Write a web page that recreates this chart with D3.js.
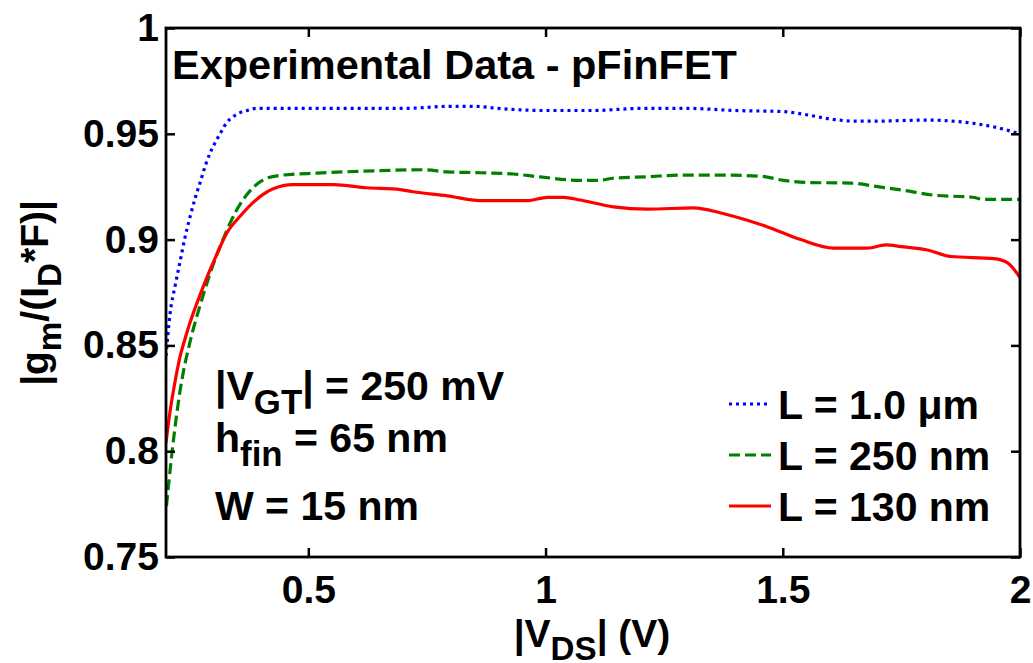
<!DOCTYPE html>
<html>
<head>
<meta charset="utf-8">
<script src="https://cdn.jsdelivr.net/npm/d3@7"></script>
<style>
  body { margin: 0; background: #fff; }
  svg text { font-family: "Liberation Sans", Arial, sans-serif; font-weight: bold; }
</style>
</head>
<body>
<svg id="chart" width="1033" height="663"></svg>
<script>
//////////////////////////////////////////////////////////////////////
// data: |VDS| (V) vs gm/(ID*F)
//////////////////////////////////////////////////////////////////////
var xTicks = [0.5, 1, 1.5, 2];
var yTicks = [0.75, 0.8, 0.85, 0.9, 0.95, 1];

// L = 1.0 um (blue, dotted)
var vdsLong = [0.200, 0.208, 0.220, 0.230, 0.240, 0.251, 0.262, 0.272, 0.283, 0.293, 0.304, 0.314,
  0.327, 0.341, 0.356, 0.371, 0.390, 0.410, 0.450, 0.500, 0.600, 0.700, 0.800, 0.850, 0.900, 1.000,
  1.100, 1.200, 1.300, 1.400, 1.500, 1.550, 1.600, 1.650, 1.700, 1.800, 1.900, 1.950, 2.000];
var gmLong = [0.845, 0.864, 0.879, 0.890, 0.901, 0.911, 0.920, 0.927, 0.935, 0.941, 0.946, 0.950,
  0.955, 0.958, 0.960, 0.961, 0.962, 0.962, 0.962, 0.962, 0.962, 0.962, 0.963, 0.963, 0.962, 0.961,
  0.961, 0.962, 0.962, 0.961, 0.9605, 0.959, 0.957, 0.956, 0.956, 0.9565, 0.955, 0.953, 0.950];

// L = 250 nm (green, dashed)
var vdsMid = [0.201, 0.212, 0.230, 0.251, 0.272, 0.293, 0.320, 0.349, 0.377, 0.412, 0.447, 0.518,
  0.651, 0.742, 0.793, 0.862, 0.932, 0.989, 1.073, 1.109, 1.143, 1.215, 1.284, 1.369, 1.450, 1.502,
  1.550, 1.643, 1.700, 1.749, 1.818, 1.900, 1.924, 2.000];
var gmMid = [0.774, 0.798, 0.829, 0.852, 0.869, 0.884, 0.900, 0.914, 0.923, 0.929, 0.9305, 0.9314,
  0.9326, 0.933, 0.932, 0.9316, 0.931, 0.9296, 0.928, 0.928, 0.929, 0.9297, 0.9305, 0.9305, 0.930, 0.928,
  0.927, 0.9267, 0.925, 0.9235, 0.921, 0.920, 0.919, 0.919];

// L = 130 nm (red, solid)
var vdsShort = [0.200, 0.208, 0.220, 0.230, 0.240, 0.251, 0.262, 0.272, 0.286, 0.307, 0.328, 0.356,
  0.391, 0.426, 0.468, 0.553, 0.623, 0.694, 0.721, 0.793, 0.862, 0.961, 1.004, 1.038, 1.073, 1.143,
  1.215, 1.312, 1.369, 1.396, 1.468, 1.538, 1.607, 1.679, 1.717, 1.749, 1.805, 1.854, 1.945, 1.974, 2.000];
var gmShort = [0.804, 0.818, 0.834, 0.845, 0.853, 0.861, 0.868, 0.874, 0.882, 0.893, 0.903, 0.911,
  0.919, 0.924, 0.926, 0.926, 0.9245, 0.9236, 0.9226, 0.9207, 0.9184, 0.9184, 0.920, 0.920, 0.9187, 0.9155,
  0.9144, 0.915, 0.9126, 0.911, 0.906, 0.900, 0.896, 0.896, 0.8975, 0.8967, 0.8951, 0.892, 0.891, 0.889, 0.882];

var seriesNames = ["L = 1.0 \u03BCm", "L = 250 nm", "L = 130 nm"];
var seriesColors = ["#0000ff", "#008000", "#ff0000"];
var seriesDash = ["3,4", "11,5", null];

//////////////////////////////////////////////////////////////////////
// layout (plot box in pixels)
//////////////////////////////////////////////////////////////////////
var boxL = 166, boxR = 1020, boxT = 28, boxB = 557;
var fs = 39; // tick label size

var svg = d3.select("#chart");

var xScale = d3.scaleLinear().domain([0.2, 2]).range([boxL, boxR]);
var yScale = d3.scaleLinear().domain([0.75, 1]).range([boxB, boxT]);

var fmt = function(d) { return String(+d.toFixed(2)); };

// lines (clipped to the box)
svg.append("clipPath").attr("id", "clip")
  .append("rect").attr("x", boxL).attr("y", boxT)
  .attr("width", boxR - boxL).attr("height", boxB - boxT);

var line = d3.line()
  .x(function(d) { return xScale(d[0]); })
  .y(function(d) { return yScale(d[1]); })
  .curve(d3.curveMonotoneX);

var allSeries = [d3.zip(vdsLong, gmLong), d3.zip(vdsMid, gmMid), d3.zip(vdsShort, gmShort)];

var plot = svg.append("g").attr("clip-path", "url(#clip)");
allSeries.forEach(function(s, i) {
  plot.append("path")
    .datum(s)
    .attr("d", line)
    .attr("fill", "none")
    .attr("stroke", seriesColors[i])
    .attr("stroke-width", 3.2)
    .attr("stroke-dasharray", seriesDash[i]);
});

// axes, ticks pointing inside on all four sides
var tk = 9;
svg.append("g")
  .attr("transform", "translate(0," + boxB + ")")
  .call(d3.axisBottom(xScale).tickValues(xTicks).tickSize(-tk).tickPadding(18).tickFormat(fmt));
svg.append("g")
  .attr("transform", "translate(" + boxL + ",0)")
  .call(d3.axisLeft(yScale).tickValues(yTicks).tickSize(-tk).tickPadding(7).tickFormat(fmt));
svg.append("g")
  .attr("transform", "translate(0," + boxT + ")")
  .call(d3.axisTop(xScale).tickValues(xTicks).tickSize(-tk).tickFormat(""));
svg.append("g")
  .attr("transform", "translate(" + boxR + ",0)")
  .call(d3.axisRight(yScale).tickValues(yTicks).tickSize(-tk).tickFormat(""));

svg.selectAll(".domain").remove();
svg.selectAll(".tick line").attr("stroke", "#000").attr("stroke-width", 2.5);
svg.selectAll(".tick text")
  .attr("font-size", fs)
  .attr("font-family", "Liberation Sans, Arial, sans-serif")
  .attr("font-weight", "bold")
  .attr("fill", "#000");

// box
svg.append("rect")
  .attr("x", boxL).attr("y", boxT)
  .attr("width", boxR - boxL).attr("height", boxB - boxT)
  .attr("fill", "none").attr("stroke", "#000").attr("stroke-width", 2.8);

//////////////////////////////////////////////////////////////////////
// texts with subscripts: parts = [[text, isSub], ...]
//////////////////////////////////////////////////////////////////////
function richText(g, parts, size) {
  var t = g.append("text").attr("font-size", size).attr("fill", "#000");
  var down = 0;
  parts.forEach(function(p) {
    var sp = t.append("tspan").text(p[0]);
    if (p[1]) sp.attr("font-size", size * 0.85);
    if (p[1] && !down) { sp.attr("dy", size * 0.33); down = 1; }
    else if (!p[1] && down) { sp.attr("dy", -size * 0.33); down = 0; }
  });
  return t;
}

// title
svg.append("text")
  .attr("x", 172).attr("y", 79)
  .attr("font-size", 41.5)
  .text("Experimental Data - pFinFET");

// conditions
richText(svg.append("g").attr("transform", "translate(215,400)"),
  [["|V", 0], ["GT", 1], ["| = 250 mV", 0]], 41);
richText(svg.append("g").attr("transform", "translate(215,452)"),
  [["h", 0], ["fin", 1], [" = 65 nm", 0]], 41);
richText(svg.append("g").attr("transform", "translate(215,520)"),
  [["W = 15 nm", 0]], 41);

// axis labels
richText(svg.append("g").attr("transform", "translate(592,647)").attr("text-anchor", "middle"),
  [["|V", 0], ["DS", 1], ["| (V)", 0]], 39);
richText(svg.append("g").attr("transform", "translate(48,293) rotate(-90)").attr("text-anchor", "middle"),
  [["|g", 0], ["m", 1], ["/(I", 0], ["D", 1], ["*F)|", 0]], 39);

// legend
var legendY = [404, 455, 506];
var leg = svg.append("g");
seriesNames.forEach(function(name, i) {
  leg.append("line")
    .attr("x1", 729).attr("x2", 771)
    .attr("y1", legendY[i]).attr("y2", legendY[i])
    .attr("stroke", seriesColors[i]).attr("stroke-width", 3.2)
    .attr("stroke-dasharray", seriesDash[i]);
  leg.append("text")
    .attr("x", 778).attr("y", legendY[i] + 15)
    .attr("font-size", 41)
    .text(name);
});
</script>
</body>
</html>
